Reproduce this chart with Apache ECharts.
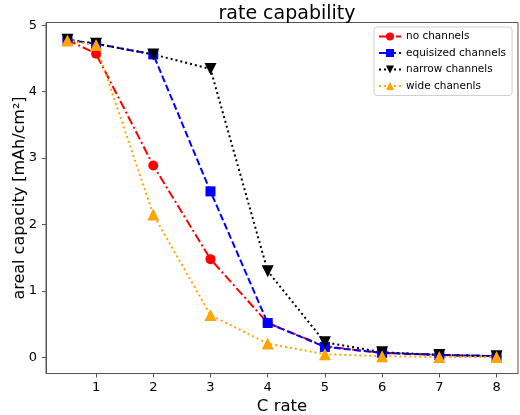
<!DOCTYPE html>
<html>
<head>
<meta charset="utf-8">
<script src="https://cdn.jsdelivr.net/npm/echarts@6/dist/echarts.min.js"></script>
<style>html,body{margin:0;padding:0;background:#fff}#c{width:520px;height:415px}</style>
</head>
<body>
<div id="c"></div>
<script>
var cRates = [0.5, 1, 2, 3, 4, 5, 6, 7, 8];
var noChannels = [4.78, 4.57, 2.89, 1.48, 0.52, 0.17, 0.07, 0.04, 0.02];
var equisized = [4.78, 4.72, 4.56, 2.50, 0.52, 0.16, 0.07, 0.04, 0.02];
var narrow = [4.78, 4.72, 4.56, 4.34, 1.30, 0.23, 0.08, 0.04, 0.02];
var wide = [4.77, 4.70, 2.15, 0.64, 0.21, 0.05, 0.02, 0.01, 0.01];
var xTicks = [1, 2, 3, 4, 5, 6, 7, 8];
var yTicks = [0, 1, 2, 3, 4, 5];

function pairs(ys) { return cRates.map(function (x, i) { return [x, ys[i]]; }); }

var font = 'DejaVu Sans';
var chart = echarts.init(document.getElementById('c'));
chart.setOption({
  animation: false,
  textStyle: { fontFamily: font },
  title: {
    text: 'rate capability', left: 282, top: 0, textAlign: 'center',
    textStyle: { fontFamily: font, fontSize: 19, fontWeight: 'normal', color: '#000' }
  },
  grid: { left: 46, right: 2, top: 22.5, bottom: 41.5, containLabel: false,
          outerBoundsMode: 'none',
          show: true, borderColor: '#555', borderWidth: 1, backgroundColor: 'transparent' },
  legend: {
    left: 374, top: 27, orient: 'vertical',
    itemWidth: 22, itemHeight: 10, itemGap: 5.5,
    padding: [4, 6, 4, 4],
    borderColor: '#d0d0d0', borderWidth: 1, borderRadius: 3,
    backgroundColor: '#fff',
    textStyle: { fontFamily: font, fontSize: 10.5, color: '#000' },
    data: ['no channels', 'equisized channels', 'narrow channels', 'wide chanenls']
  },
  xAxis: {
    type: 'value', min: 0.125, max: 8.375,
    name: 'C rate', nameLocation: 'middle', nameGap: 25, nameMoveOverlap: false,
    nameTextStyle: { fontFamily: font, fontSize: 16.5, color: '#000' },
    axisLine: { show: true, onZero: false, lineStyle: { color: '#555', width: 1 } },
    axisTick: { show: true, length: 4, lineStyle: { color: '#555' }, customValues: xTicks },
    axisLabel: { fontFamily: font, fontSize: 13, color: '#000', margin: 8, customValues: xTicks },
    splitLine: { show: false }
  },
  yAxis: {
    type: 'value', min: -0.24, max: 5.04,
    name: 'areal capacity [mAh/cm²]', nameLocation: 'middle', nameGap: 18, nameMoveOverlap: false,
    nameTextStyle: { fontFamily: font, fontSize: 16, color: '#000' },
    axisLine: { show: true, onZero: false, lineStyle: { color: '#555', width: 1 } },
    axisTick: { show: true, length: 4, lineStyle: { color: '#555' }, customValues: yTicks },
    axisLabel: { fontFamily: font, fontSize: 13, color: '#000', margin: 9, customValues: yTicks },
    splitLine: { show: false }
  },
  series: [
    {
      name: 'no channels', type: 'line', data: pairs(noChannels),
      symbol: 'circle', symbolSize: 10, color: '#ff0000',
      lineStyle: { width: 2, type: [9, 3, 2, 3], color: '#ff0000' },
      itemStyle: { color: '#ff0000' }
    },
    {
      name: 'equisized channels', type: 'line', data: pairs(equisized),
      symbol: 'rect', symbolSize: 10, color: '#0000ff',
      lineStyle: { width: 2, type: [7, 3], color: '#0000ff' },
      itemStyle: { color: '#0000ff' }
    },
    {
      name: 'narrow channels', type: 'line', data: pairs(narrow),
      symbol: 'triangle', symbolRotate: 180, symbolSize: 12, color: '#000000',
      lineStyle: { width: 2, type: [2, 3], color: '#000000' },
      itemStyle: { color: '#000000' }
    },
    {
      name: 'wide chanenls', type: 'line', data: pairs(wide),
      symbol: 'triangle', symbolSize: 12, color: '#ffa500',
      lineStyle: { width: 2, type: [2, 3], color: '#ffa500' },
      itemStyle: { color: '#ffa500' }
    }
  ]
});
</script>
</body>
</html>
